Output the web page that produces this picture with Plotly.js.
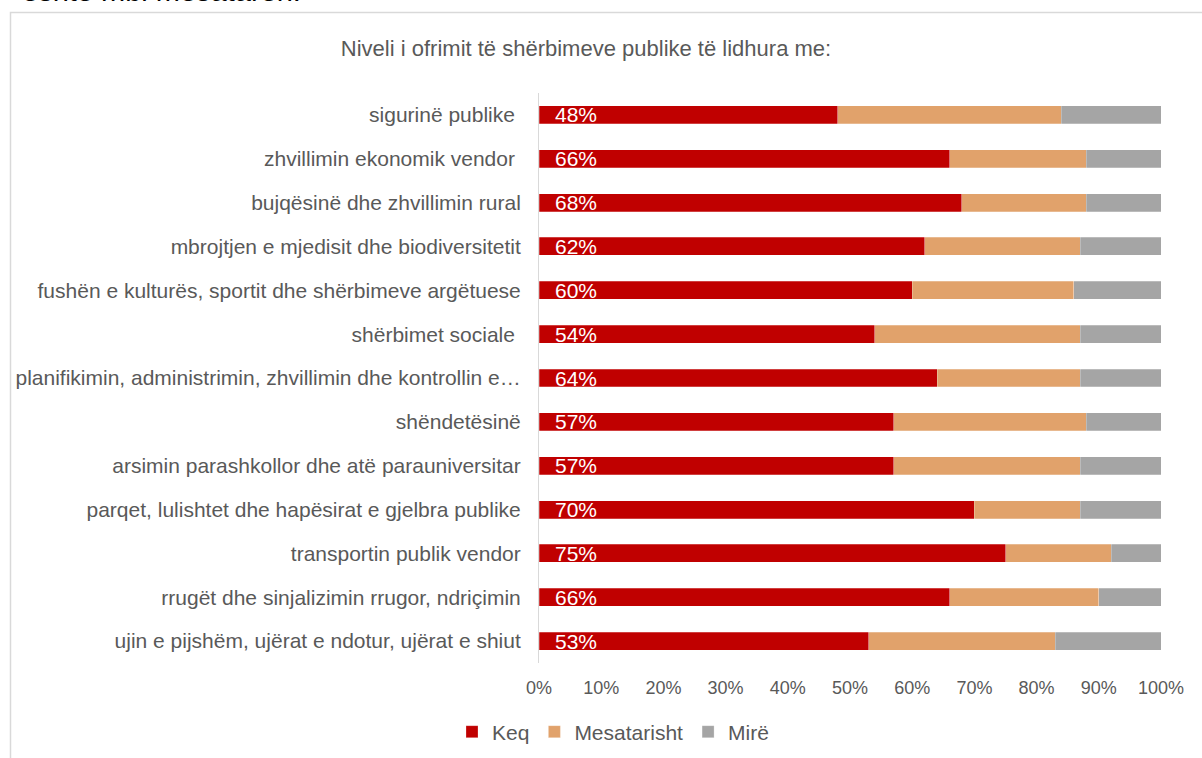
<!DOCTYPE html>
<html>
<head>
<meta charset="utf-8">
<script src="https://cdn.plot.ly/plotly-3.0.1.min.js"></script>
<style>html,body{margin:0;padding:0;background:#fff;}#chart{width:1202px;height:758px;}</style>
</head>
<body>
<div id="chart"></div>
<script>
const categories = [
  "sigurinë publike\u00A0",
  "zhvillimin ekonomik vendor\u00A0",
  "bujqësinë dhe zhvillimin rural",
  "mbrojtjen e mjedisit dhe biodiversitetit",
  "fushën e kulturës, sportit dhe shërbimeve argëtuese",
  "shërbimet sociale\u00A0",
  "planifikimin, administrimin, zhvillimin dhe kontrollin e…",
  "shëndetësinë",
  "arsimin parashkollor dhe atë parauniversitar",
  "parqet, lulishtet dhe hapësirat e gjelbra publike",
  "transportin publik vendor",
  "rrugët dhe sinjalizimin rrugor, ndriçimin",
  "ujin e pijshëm, ujërat e ndotur, ujërat e shiut"
];
const keq         = [48, 66, 68, 62, 60, 54, 64, 57, 57, 70, 75, 66, 53];
const mesatarisht = [36, 22, 20, 25, 26, 33, 23, 31, 30, 17, 17, 24, 30];
const mire        = [16, 12, 12, 13, 14, 13, 13, 12, 13, 13,  8, 10, 17];
const seriesNames = ["Keq", "Mesatarisht", "Mirë"];
const xTickVals = [0, 10, 20, 30, 40, 50, 60, 70, 80, 90, 100];
const xTickText = ["0%", "10%", "20%", "30%", "40%", "50%", "60%", "70%", "80%", "90%", "100%"];
const chartTitle = "Niveli i ofrimit të shërbimeve publike të lidhura me:";
const topText = "është mbi mesataren.";

const FONT = "Liberation Sans, Arial, sans-serif";
const GREY = "#595959";
const colors = ["#C00000", "#E1A26B", "#A5A5A5"];
const values = [keq, mesatarisht, mire];

const traces = values.map((v, i) => ({
  type: "bar",
  orientation: "h",
  name: seriesNames[i],
  x: v,
  y: categories,
  marker: { color: colors[i], line: { color: "rgba(255,255,255,0.5)", width: 0.5 } },
  hoverinfo: "x+y+name"
}));

const annotations = keq.map((v, i) => ({
  xref: "x", yref: "y",
  x: 0, y: categories[i],
  text: v + "%",
  showarrow: false,
  xanchor: "left", yanchor: "middle",
  xshift: 14, yshift: 0,
  font: { family: FONT, size: 21, color: "#FFFFFF" }
}));

annotations.push({
  xref: "paper", yref: "paper",
  x: (20 - 539) / 622, y: (663 - 9) / 570,
  xanchor: "left", yanchor: "bottom",
  text: topText, showarrow: false,
  font: { family: FONT, size: 29, color: "#000000" }
});

const layout = {
  width: 1202, height: 758,
  margin: { l: 539, r: 41, t: 93, b: 95, pad: 0 },
  paper_bgcolor: "#FFFFFF", plot_bgcolor: "#FFFFFF",
  barmode: "stack",
  bargap: 0.59,
  showlegend: true,
  font: { family: FONT, color: GREY },
  title: {
    text: chartTitle,
    xref: "container", yref: "container",
    x: 586 / 1202, y: 1 - 48 / 758,
    xanchor: "center", yanchor: "middle",
    font: { family: FONT, size: 22, color: GREY }
  },
  xaxis: {
    range: [0, 100],
    tickvals: xTickVals, ticktext: xTickText,
    showgrid: false, zeroline: false, showline: false,
    ticks: "", ticklabelstandoff: 12,
    tickfont: { family: FONT, size: 18, color: GREY },
    fixedrange: true
  },
  yaxis: {
    type: "category",
    categoryorder: "array", categoryarray: categories,
    range: [12.5, -0.5],
    showgrid: false, zeroline: false,
    showline: true, linecolor: "#D9D9D9", linewidth: 1,
    ticks: "", ticklabelstandoff: 13,
    tickfont: { family: FONT, size: 21, color: GREY },
    fixedrange: true
  },
  legend: {
    orientation: "h",
    xref: "container", yref: "container",
    x: 613 / 1202, y: 1 - 732 / 758,
    xanchor: "center", yanchor: "middle",
    font: { family: FONT, size: 21, color: GREY },
    traceorder: "normal",
    itemwidth: 30
  },
  shapes: [{
    type: "rect", xref: "paper", yref: "paper",
    x0: (10.5 - 539) / 622, x1: (1230 - 539) / 622,
    y0: (663 - 800) / 570, y1: (663 - 12.5) / 570,
    line: { color: "#D9D9D9", width: 1.5 },
    fillcolor: "rgba(0,0,0,0)",
    layer: "below"
  }],
  annotations: annotations
};

Plotly.newPlot("chart", traces, layout, { displayModeBar: false, staticPlot: true });
</script>
</body>
</html>
